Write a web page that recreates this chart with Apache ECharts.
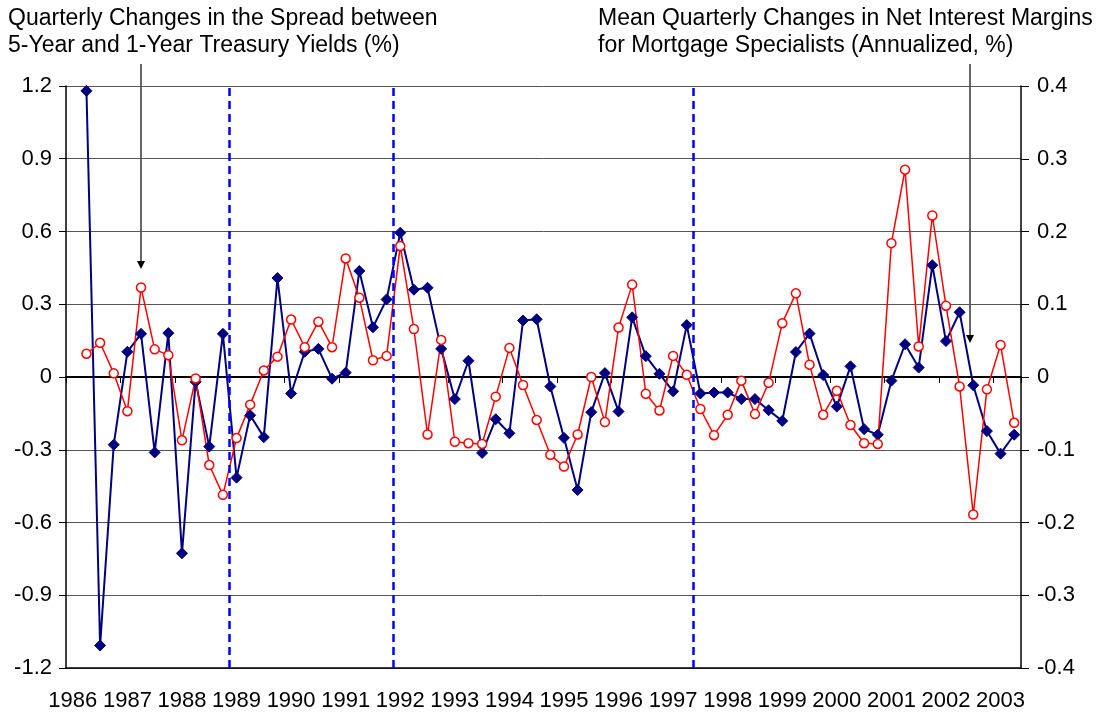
<!DOCTYPE html>
<html>
<head>
<meta charset="utf-8">
<title>Spread vs Net Interest Margins</title>
<script src="https://cdn.jsdelivr.net/npm/echarts@6.0.0/dist/echarts.min.js"></script>
<style>
  html, body { margin: 0; padding: 0; background: #fff; }
  #chart { width: 1099px; height: 717px; }
</style>
</head>
<body>
<div id="chart"></div>
<script>
// quarterly categories 1986Q1 .. 2003Q2
const years = [1986, 1987, 1988, 1989, 1990, 1991, 1992, 1993, 1994, 1995,
  1996, 1997, 1998, 1999, 2000, 2001, 2002, 2003]
const quarterNames = ['Q1', 'Q2', 'Q3', 'Q4']
const categories = years.flatMap(y => quarterNames.map(q => y + ' ' + q)).slice(0, 70)

// 5y-1y treasury spread, quarterly change (%), left axis
const spreadChange = [null,
  1.18, -1.107, -0.279, 0.104, 0.178, -0.311, 0.181, -0.727, -0.020, -0.287,
  0.178, -0.415, -0.158, -0.248, 0.408, -0.068, 0.104, 0.116, -0.007, 0.018,
  0.437, 0.205, 0.320, 0.595, 0.360, 0.368, 0.116, -0.091, 0.067, -0.313,
  -0.174, -0.232, 0.233, 0.238, -0.039, -0.251, -0.466, -0.145, 0.016, -0.142,
  0.246, 0.086, 0.013, -0.059, 0.214, -0.068, -0.064, -0.064, -0.091, -0.091,
  -0.137, -0.181, 0.103, 0.179, 0.008, -0.122, 0.044, -0.215, -0.238, -0.015,
  0.135, 0.039, 0.461, 0.148, 0.267, -0.034, -0.223, -0.316, -0.238]

// mean quarterly change in net interest margin (annualized %), right axis
const marginChange = [null,
  0.032, 0.047, 0.005, -0.047, 0.123, 0.038, 0.030, -0.087, -0.002, -0.121,
  -0.162, -0.084, -0.038, 0.009, 0.028, 0.079, 0.041, 0.076, 0.041, 0.163,
  0.109, 0.023, 0.029, 0.180, 0.066, -0.079, 0.051, -0.089, -0.091, -0.092,
  -0.027, 0.040, -0.011, -0.059, -0.107, -0.123, -0.079, 0.000, -0.062, 0.068,
  0.127, -0.023, -0.046, 0.029, 0.003, -0.044, -0.080, -0.052, -0.005, -0.051,
  -0.008, 0.074, 0.115, 0.017, -0.052, -0.019, -0.066, -0.091, -0.092, 0.184,
  0.285, 0.042, 0.222, 0.098, -0.013, -0.189, -0.017, 0.044, -0.063]

// dashed vertical lines, as quarter boundaries (index of first quarter after the line)
const breakQuarters = [12, 24, 46]

const FONT = 'Liberation Sans, Arial, sans-serif'
const titleStyle = { fontSize: 23, lineHeight: 27, fontWeight: 'normal', color: '#000', fontFamily: FONT }

const chart = echarts.init(document.getElementById('chart'))

const option = {
  animation: false,
  backgroundColor: '#fff',
  textStyle: { fontFamily: FONT },
  title: [
    {
      text: 'Quarterly Changes in the Spread between\n5-Year and 1-Year Treasury Yields (%)',
      left: 8,
      top: 5,
      padding: 0,
      textStyle: titleStyle
    },
    {
      text: 'Mean Quarterly Changes in Net Interest Margins\nfor Mortgage Specialists (Annualized, %)',
      left: 598,
      top: 5,
      padding: 0,
      textStyle: titleStyle
    }
  ],
  grid: { left: 66, right: 78, top: 86, bottom: 49, containLabel: false },
  xAxis: [
    {
      // axis line and ticks on the zero line
      type: 'category',
      data: categories,
      position: 'top',
      boundaryGap: true,
      axisLine: { onZero: true, lineStyle: { color: '#000', width: 2 } },
      axisTick: { show: true, inside: true, interval: 3, length: 6, lineStyle: { color: '#000', width: 1 } },
      axisLabel: { show: false },
      splitLine: { show: false }
    },
    {
      // year labels along the bottom
      type: 'category',
      data: categories,
      position: 'bottom',
      boundaryGap: true,
      axisLine: { onZero: false, lineStyle: { color: '#000', width: 1.5 } },
      axisTick: { show: false },
      axisLabel: {
        interval: 3,
        margin: 22,
        fontSize: 22,
        color: '#000',
        fontFamily: FONT,
        formatter: v => v.slice(0, 4)
      },
      splitLine: { show: false }
    },
    {
      // hidden quarter-index axis for the dashed markers
      type: 'value',
      min: 0,
      max: categories.length,
      show: false
    }
  ],
  yAxis: [
    {
      type: 'value',
      position: 'left',
      min: -1.2,
      max: 1.2,
      interval: 0.3,
      axisLine: { show: true, onZero: false, lineStyle: { color: '#000', width: 1.5 } },
      axisTick: { show: true, length: 7, lineStyle: { color: '#000' } },
      axisLabel: { fontSize: 22, color: '#000', margin: 14, fontFamily: FONT },
      splitLine: { show: true, lineStyle: { color: '#555', width: 1 } }
    },
    {
      type: 'value',
      position: 'right',
      min: -0.4,
      max: 0.4,
      interval: 0.1,
      axisLine: { show: true, onZero: false, lineStyle: { color: '#000', width: 1.5 } },
      axisTick: { show: true, length: 8, lineStyle: { color: '#000' } },
      axisLabel: { fontSize: 22, color: '#000', margin: 16, fontFamily: FONT },
      splitLine: { show: false }
    }
  ],
  graphic: [
    { type: 'line', shape: { x1: 141, y1: 64, x2: 141, y2: 262 }, style: { stroke: '#000', lineWidth: 1.2 } },
    { type: 'polygon', shape: { points: [[137, 261], [145, 261], [141, 269]] }, style: { fill: '#000' } },
    { type: 'line', shape: { x1: 970, y1: 64, x2: 970, y2: 336 }, style: { stroke: '#000', lineWidth: 1.2 } },
    { type: 'polygon', shape: { points: [[966, 335], [974, 335], [970, 343]] }, style: { fill: '#000' } }
  ],
  series: [
    {
      name: 'breaks',
      type: 'line',
      xAxisIndex: 2,
      yAxisIndex: 0,
      data: [],
      silent: true,
      markLine: {
        silent: true,
        symbol: ['none', 'none'],
        label: { show: false },
        lineStyle: { color: '#0000ff', type: [8, 5], width: 2.5 },
        data: breakQuarters.map(q => ({ xAxis: q }))
      }
    },
    {
      name: 'Spread',
      type: 'line',
      xAxisIndex: 0,
      yAxisIndex: 0,
      data: spreadChange,
      showSymbol: true,
      showAllSymbol: true,
      symbol: 'diamond',
      symbolSize: 11,
      itemStyle: { color: '#000080', borderColor: '#000080' },
      lineStyle: { color: '#000080', width: 2 }
    },
    {
      name: 'NIM',
      type: 'line',
      xAxisIndex: 0,
      yAxisIndex: 1,
      data: marginChange,
      showSymbol: true,
      showAllSymbol: true,
      symbol: 'circle',
      symbolSize: 9,
      itemStyle: { color: '#fff', borderColor: '#ff0000', borderWidth: 1.5 },
      lineStyle: { color: '#ff0000', width: 1.5 }
    }
  ]
}

chart.setOption(option)
</script>
</body>
</html>
